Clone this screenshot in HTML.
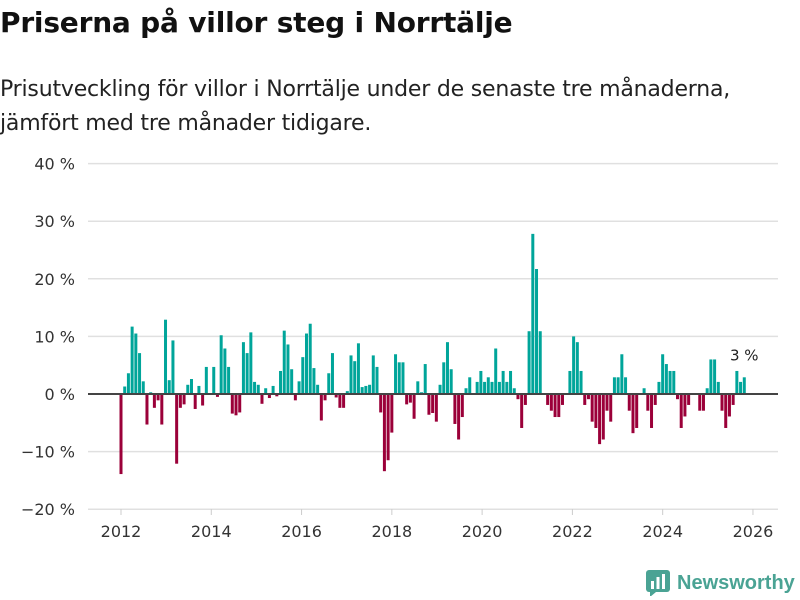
<!DOCTYPE html>
<html><head><meta charset="utf-8"><style>
body{margin:0;width:800px;height:600px;background:#fff;font-family:"Liberation Sans","DejaVu Sans",sans-serif;overflow:hidden;position:relative}
h1{position:absolute;left:0;top:6px;margin:0;font-size:28px;font-weight:bold;color:#111;font-family:"DejaVu Sans","Liberation Sans",sans-serif;letter-spacing:-0.2px}
.sub{position:absolute;left:0;top:73px;margin:0;font-size:22px;line-height:34px;color:#222;font-family:"DejaVu Sans","Liberation Sans",sans-serif;letter-spacing:-0.2px}
svg text{font-family:"DejaVu Sans","Liberation Sans",sans-serif}
</style></head><body>
<h1>Priserna på villor steg i Norrtälje</h1>
<p class="sub">Prisutveckling för villor i Norrtälje under de senaste tre månaderna,<br>jämfört med tre månader tidigare.</p>
<svg id="chart" width="800" height="600" style="position:absolute;left:0;top:0"></svg>
<script>
const values=[-13.9,1.3,3.6,11.7,10.5,7.1,2.2,-5.3,0.3,-2.4,-1.1,-5.3,12.9,2.4,9.3,-12.1,-2.4,-1.8,1.6,2.6,-2.6,1.4,-2,4.7,0,4.7,-0.5,10.2,7.9,4.7,-3.4,-3.7,-3.2,9.0,7.1,10.7,2.1,1.6,-1.7,1.0,-0.7,1.4,-0.4,4.0,11.0,8.6,4.3,-1.1,2.2,6.4,10.5,12.2,4.5,1.6,-4.6,-1.1,3.6,7.1,-0.6,-2.4,-2.4,0.5,6.7,5.7,8.8,1.2,1.4,1.6,6.7,4.7,-3.2,-13.4,-11.5,-6.7,6.9,5.5,5.5,-1.8,-1.5,-4.3,2.2,0.3,5.2,-3.6,-3.3,-4.8,1.6,5.5,9.0,4.3,-5.2,-7.9,-4.0,1.0,2.9,0,2.1,4.0,2.1,2.9,2.1,7.9,2.1,4.0,2.1,4.0,1.0,-0.9,-5.9,-1.9,10.9,27.8,21.7,10.9,0,-1.9,-2.9,-4.0,-4.0,-1.9,0,4.0,10.0,9.0,4.0,-1.9,-0.9,-4.8,-5.9,-8.7,-7.9,-2.9,-4.8,2.9,2.9,6.9,2.9,-2.9,-6.8,-5.9,0,1.0,-2.9,-5.9,-1.9,2.1,6.9,5.2,4.0,4.0,-0.9,-5.9,-3.9,-1.9,0,0,-2.9,-2.9,1.0,6.0,6.0,2.1,-2.9,-5.9,-3.9,-1.9,4.0,2.1,2.9];
const yTicks=[40,30,20,10,0,-10,-20];
const xTicks=[2012,2014,2016,2018,2020,2022,2024,2026];
const NS="http://www.w3.org/2000/svg",svg=document.getElementById('chart');
function y(v){return 394-v*5.76;}
function xYear(yr){return 121+(yr-2012)*45.14;}
function xIdx(i){return 121+i*3.71;}
function mk(t,a,txt){const e=document.createElementNS(NS,t);for(const k in a)e.setAttribute(k,a[k]);if(txt!==undefined)e.textContent=txt;svg.appendChild(e);return e;}
yTicks.forEach(v=>{
 if(v!==0){const g=mk('line',{x1:88,x2:778,y1:y(v),y2:y(v),stroke:'#e0e0e0','stroke-width':1.5});
 
 }
 const t=mk('text',{x:75,y:y(v)+6,'text-anchor':'end','font-size':16,fill:'#333'},v===0?'0 %':(v<0?'\u2212'+(-v):v)+' %');
 
 
});
xTicks.forEach(yr=>{
 const t=mk('text',{x:xYear(yr),y:537,'text-anchor':'middle','font-size':16,fill:'#333'},yr);
 
 
 const k=mk('line',{x1:xYear(yr),x2:xYear(yr),y1:509,y2:515,stroke:'#ccc'});
 
 
});
values.forEach((v,i)=>{
 const r=mk('rect',{x:xIdx(i)-1.5,y:Math.min(y(v),y(0)),width:3,height:Math.abs(y(v)-y(0)),fill:v>=0?'#00a59a':'#9b0039'});
 
 
});
const z=mk('line',{x1:88,x2:778,y1:y(0),y2:y(0),stroke:'#444','stroke-width':2});


const last=values[values.length-1];
const lb=mk('text',{x:xIdx(values.length-1),y:y(last)-17,'text-anchor':'middle','font-size':15,fill:'#222'},Math.round(last)+' %');


</script>
<div style="position:absolute;left:646px;top:570px;display:flex;align-items:center">
<svg width="24" height="26"><rect x="0" y="0" width="24" height="22" rx="3" fill="#4aa394"/><polygon points="4,22 10,22 4,27" fill="#4aa394"/><rect x="5" y="11" width="3" height="8" fill="#fff"/><rect x="10.5" y="7" width="3" height="12" fill="#fff"/><rect x="16" y="4" width="3" height="15" fill="#fff"/></svg>
<span style="margin-left:7px;font-size:20px;font-weight:bold;color:#4aa394;font-family:'Liberation Sans','DejaVu Sans',sans-serif">Newsworthy</span>
</div>
</body></html>
